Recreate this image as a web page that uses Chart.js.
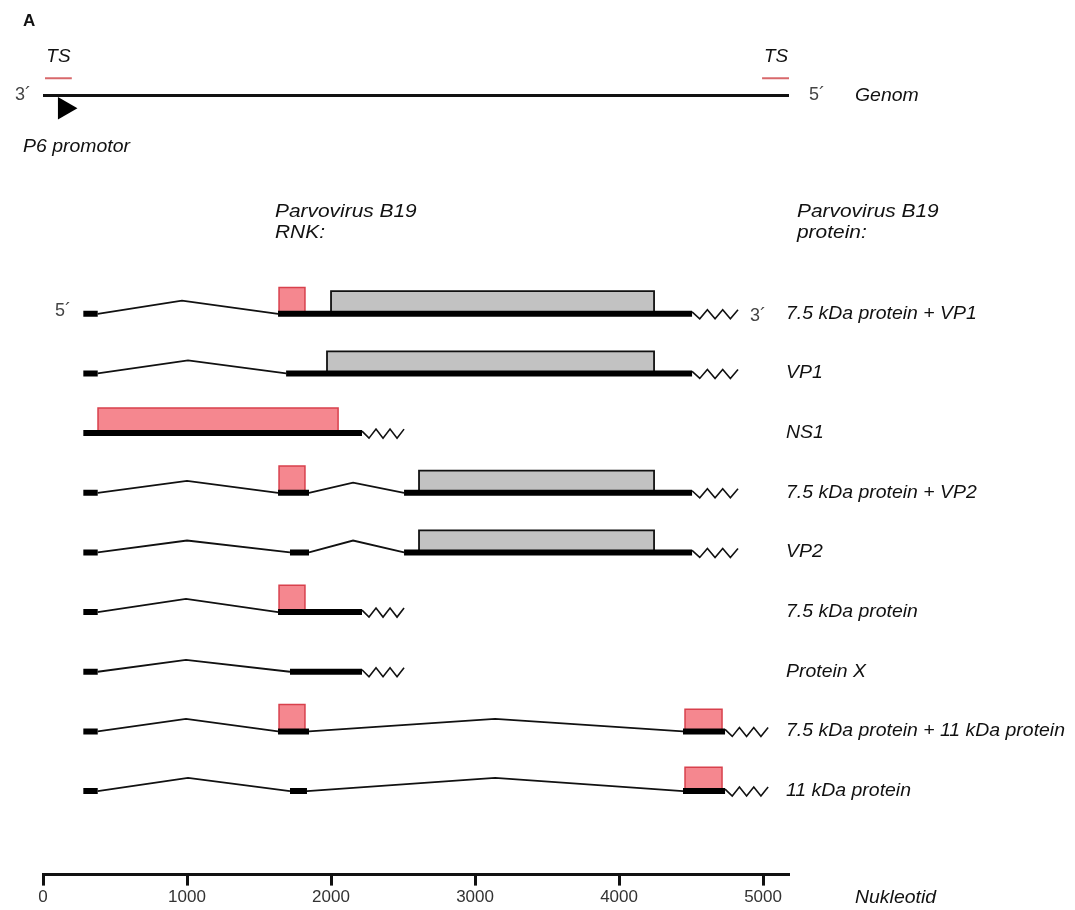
<!DOCTYPE html>
<html><head><meta charset="utf-8">
<script src="https://cdn.jsdelivr.net/npm/chart.js@4.4.1/dist/chart.umd.min.js"></script>
<style>html,body{margin:0;padding:0;background:#fff}#wrap{width:1075px;height:910px;position:relative}</style>
</head><body><div id="wrap"><canvas id="c" width="1075" height="910"></canvas></div>
<script>
// ---- data (nucleotide positions) ----
const rowLabels = ['7.5 kDa protein + VP1','VP1','NS1','7.5 kDa protein + VP2','VP2','7.5 kDa protein','Protein X','7.5 kDa protein + 11 kDa protein','11 kDa protein'];
const exons = [
  [[280,380],[1632,4507]],
  [[280,380],[1688,4507]],
  [[280,2215]],
  [[280,380],[1632,1847],[2507,4507]],
  [[280,380],[1715,1847],[2507,4507]],
  [[280,380],[1632,2215]],
  [[280,380],[1715,2215]],
  [[280,380],[1632,1847],[4444,4736]],
  [[280,380],[1715,1833],[4444,4736]]
];
// intron apex: [position, rise]
const intronPeaks = [
  [[965,0.22]],
  [[1007,0.22]],
  [],
  [[1000,0.2],[2153,0.17]],
  [[1000,0.2],[2153,0.2]],
  [[993,0.22]],
  [[993,0.2]],
  [[993,0.21],[3139,0.21]],
  [[1007,0.22],[3139,0.22]]
];
const tailEnds = [4826,4826,2507,4826,4826,2507,2507,5035,5035];
// [row, start, end, height]
const redBoxes = [[1,1639,1819,0.44],[3,382,2049,0.42],[4,1639,1819,0.45],[6,1639,1819,0.45],[8,1639,1819,0.45],[8,4458,4715,0.37],[9,4458,4715,0.4]];
const grayBoxes = [[1,2000,4243,0.38],[2,1972,4243,0.37],[4,2611,4243,0.37],[5,2611,4243,0.37]];
const genomeSpan = [0,5180];
const tsMarks = [[14,200],[4993,5187]];
const promoterPos = 149;
const tickValues = [0,1000,2000,3000,4000,5000];
const GENOME_ROW = -2.66, TS_ROW = -2.95, PROMO_ROW = -2.445;

// ---- datasets ----
const datasets = [];
datasets.push({data: genomeSpan.map(x=>({x, y:GENOME_ROW})), borderColor:'#111', borderWidth:3, order:1});
tsMarks.forEach(([a,b])=>datasets.push({data:[{x:a,y:TS_ROW},{x:b,y:TS_ROW}], borderColor:'#d8686b', borderWidth:2, order:1}));
datasets.push({data:[{x:promoterPos,y:PROMO_ROW}], showLine:false, pointStyle:'triangle', pointRotation:90, pointRadius:13, pointHoverRadius:13, pointBackgroundColor:'#000', pointBorderWidth:0, order:0});
exons.forEach((ex,i)=>{
  const r = i+1;
  ex.forEach(([a,b])=>datasets.push({data:[{x:a,y:r},{x:b,y:r}], borderColor:'#000', borderWidth:6, order:1}));
  intronPeaks[i].forEach(([p,h],k)=>{
    datasets.push({data:[{x:ex[k][1],y:r},{x:p,y:r-h},{x:ex[k+1][0],y:r}], borderColor:'#111', borderWidth:1.8, order:2});
  });
});
redBoxes.forEach(([r,a,b,h])=>datasets.push({data:[{x:a,y:r},{x:a,y:r-h},{x:b,y:r-h},{x:b,y:r}], borderColor:'#d8404c', backgroundColor:'#f5878f', borderWidth:1.5, fill:{value:r}, order:3}));
grayBoxes.forEach(([r,a,b,h])=>datasets.push({data:[{x:a,y:r},{x:a,y:r-h},{x:b,y:r-h},{x:b,y:r}], borderColor:'#111', backgroundColor:'#c2c2c2', borderWidth:1.8, fill:{value:r}, order:3}));

// ---- annotation plugin ----
const FONT = '"Liberation Sans", Arial, sans-serif';
function txt(ctx, s, x, y, o={}){
  ctx.save();
  ctx.font = (o.style ? o.style + ' ' : '') + (o.size||18) + 'px ' + FONT;
  ctx.fillStyle = o.color || '#111';
  ctx.textBaseline = 'middle';
  ctx.textAlign = o.align || 'left';
  const st = o.stretch || 1;
  ctx.translate(x, y); ctx.scale(st, 1);
  ctx.fillText(s, 0, 0);
  ctx.restore();
}
const annot = {
  id:'annot',
  afterDatasetsDraw(chart){
    const ctx = chart.ctx, xs = chart.scales.x, ys = chart.scales.y;
    // poly-A tails
    ctx.save();
    ctx.strokeStyle = '#111'; ctx.lineWidth = 1.6; ctx.lineJoin='miter';
    exons.forEach((ex,i)=>{
      const x0 = xs.getPixelForValue(ex[ex.length-1][1]);
      const x1 = xs.getPixelForValue(tailEnds[i]);
      const y = ys.getPixelForValue(i+1);
      const offs = [-2,5,-4,5,-4,5,-4];
      ctx.beginPath();
      offs.forEach((d,k)=>{ const px = x0 + (x1-x0)*k/(offs.length-1); k?ctx.lineTo(px,y+d):ctx.moveTo(px,y+d); });
      ctx.stroke();
    });
    ctx.restore();
  },
  afterDraw(chart){
    const ctx = chart.ctx, xs = chart.scales.x, ys = chart.scales.y;
    const gy = ys.getPixelForValue(GENOME_ROW), ty = ys.getPixelForValue(TS_ROW);
    txt(ctx,'A',23,21,{style:'bold',size:17});
    txt(ctx,'TS',xs.getPixelForValue((tsMarks[0][0]+tsMarks[0][1])/2),ty-21,{style:'italic',size:18,align:'center',stretch:1.05});
    txt(ctx,'TS',xs.getPixelForValue((tsMarks[1][0]+tsMarks[1][1])/2),ty-21,{style:'italic',size:18,align:'center',stretch:1.05});
    txt(ctx,'3´',15,gy,{size:18,color:'#444'});
    txt(ctx,'5´',809,gy,{size:18,color:'#444'});
    txt(ctx,'Genom',855,gy+1,{style:'italic',size:18,stretch:1.08});
    txt(ctx,'P6 promotor',23,147,{style:'italic',size:18,stretch:1.08});
    txt(ctx,'Parvovirus B19',275,212,{style:'italic',size:19,stretch:1.1});
    txt(ctx,'RNK:',275,233,{style:'italic',size:19,stretch:1.1});
    txt(ctx,'Parvovirus B19',797,212,{style:'italic',size:19,stretch:1.1});
    txt(ctx,'protein:',797,233,{style:'italic',size:19,stretch:1.1});
    const y1 = ys.getPixelForValue(1);
    txt(ctx,'5´',55,y1-3,{size:18,color:'#444'});
    txt(ctx,'3´',750,y1+2,{size:18,color:'#444'});
    rowLabels.forEach((s,i)=>txt(ctx,s,786,ys.getPixelForValue(i+1),{style:'italic',size:18,stretch:1.08}));
    txt(ctx,'Nukleotid',855,898,{style:'italic',size:18,stretch:1.08});
  }
};

new Chart(document.getElementById('c'), {
  type:'line',
  data:{datasets},
  options:{
    responsive:false, animation:false, devicePixelRatio:1,
    layout:{autoPadding:false, padding:{left:43,right:286,top:0,bottom:0}},
    elements:{point:{radius:0,hoverRadius:0}, line:{tension:0, fill:false, borderCapStyle:'butt'}},
    plugins:{legend:{display:false}, tooltip:{enabled:false}},
    events:[],
    scales:{
      x:{type:'linear', min:0, max:5180,
         afterBuildTicks:s=>{ s.ticks = tickValues.map(v=>({value:v})); },
         grid:{drawOnChartArea:false, drawTicks:true, tickLength:11, tickWidth:3, tickColor:'#111'},
         border:{display:true, color:'#111', width:3},
         ticks:{color:'#333', font:{family:FONT, size:17}, padding:2, maxRotation:0, autoSkip:false, callback:v=>String(v)}},
      y:{type:'linear', display:false, reverse:true, min:-4.26, max:10.40}
    }
  },
  plugins:[annot]
});
</script></body></html>
